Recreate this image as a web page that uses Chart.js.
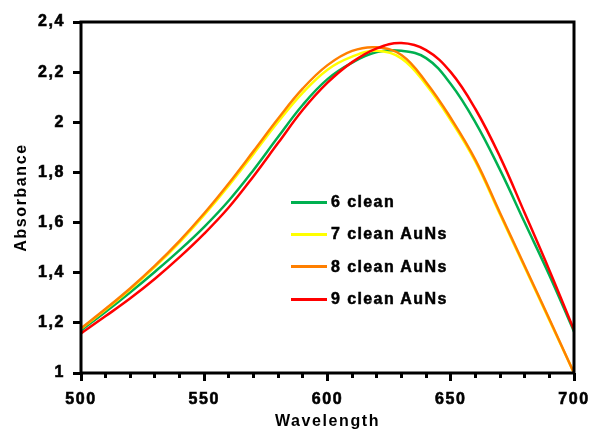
<!DOCTYPE html>
<html>
<head>
<meta charset="utf-8">
<script src="https://cdn.jsdelivr.net/npm/chart.js@4"></script>
<style>
  html, body { margin: 0; padding: 0; background: #fff; }
  #wrap { position: relative; width: 591px; height: 435px; }
  #legend { position: absolute; left: 291px; top: 186px; font: bold 16px "Liberation Sans", Arial, sans-serif; letter-spacing: 1.4px; -webkit-text-stroke: 0.5px #000; color: #000; }
  .row { display: flex; align-items: center; height: 32.3px; }
  .sw { width: 36px; height: 3px; margin-right: 4px; }
</style>
</head>
<body>
<div id="wrap">
  <canvas id="c" width="591" height="435"></canvas>
  <div id="legend"></div>
</div>
<script>
// Wavelength (nm)
const wavelengths = [500,510,520,530,540,550,560,570,580,590,600,610,620,630,640,650,660,670,680,690,700];
// Absorbance series
const clean6     = [1.170,1.244,1.322,1.404,1.490,1.583,1.688,1.810,1.942,2.070,2.172,2.238,2.280,2.285,2.256,2.153,2.000,1.810,1.600,1.390,1.165];
const clean7AuNs = [1.176,1.253,1.334,1.423,1.521,1.630,1.748,1.874,2.002,2.118,2.210,2.262,2.285,2.255,2.150,2.008,1.843,1.632,1.422,1.211,1.000];
const clean8AuNs = [1.178,1.256,1.338,1.428,1.527,1.637,1.757,1.885,2.015,2.135,2.228,2.285,2.299,2.268,2.160,2.017,1.850,1.638,1.427,1.215,1.000];
const clean9AuNs = [1.158,1.227,1.298,1.376,1.462,1.556,1.661,1.785,1.918,2.050,2.158,2.240,2.295,2.316,2.288,2.200,2.053,1.862,1.638,1.410,1.172];

const seriesNames  = ['6 clean', '7 clean AuNs', '8 clean AuNs', '9 clean AuNs'];
const seriesValues = [clean6, clean7AuNs, clean8AuNs, clean9AuNs];
const seriesColors = ['#00B050', '#FFFF00', '#FF7F00', '#FF0000'];
const drawOrder    = [3, 2, 1, 0];

const xTickLabels = ['500', '550', '600', '650', '700'];
const yTickLabels = ['1', '1,2', '1,4', '1,6', '1,8', '2', '2,2', '2,4'];

const FONT = '"Liberation Sans", Arial, sans-serif';

const datasets = seriesNames.map((name, i) => ({
  label: name,
  data: wavelengths.map((w, j) => ({ x: w, y: seriesValues[i][j] })),
  borderColor: seriesColors[i],
  backgroundColor: seriesColors[i],
  borderWidth: 2.5,
  pointRadius: 0,
  tension: 0.4,
  fill: false,
  order: drawOrder[i]
}));

const spacingPlugin = {
  id: 'spacing',
  beforeUpdate(chart) { chart.ctx.letterSpacing = '1.6px'; },
  beforeDraw(chart) { chart.ctx.letterSpacing = '1.6px'; }
};

const framePlugin = {
  id: 'frame',
  afterDatasetsDraw(chart) {
    const a = chart.chartArea, ctx = chart.ctx;
    ctx.save();
    ctx.strokeStyle = '#000';
    ctx.lineWidth = 3;
    ctx.strokeRect(a.left, a.top, a.right - a.left, a.bottom - a.top);
    ctx.restore();
  }
};

const tickFont = { family: FONT, size: 16, weight: 'bold' };

new Chart(document.getElementById('c'), {
  type: 'line',
  data: { datasets },
  plugins: [spacingPlugin, framePlugin],
  options: {
    responsive: false,
    animation: false,
    layout: { padding: { left: 0, top: 22, right: 17, bottom: 0 } },
    plugins: { legend: { display: false }, tooltip: { enabled: false } },
    scales: {
      x: {
        type: 'linear', min: 500, max: 700,
        afterFit(s) { s.height = 62; s.paddingLeft = 0; s.paddingRight = 0; },
        border: { display: false },
        grid: {
          drawOnChartArea: false, drawTicks: true, tickLength: 8, color: '#000', lineWidth: 3,
          tickBorderDash(ctx) { return (ctx.tick && ctx.tick.value % 50 !== 0) ? [5, 60] : []; }
        },
        ticks: {
          stepSize: 10, autoSkip: false, maxRotation: 0, padding: 9,
          color: '#000', font: tickFont, textStrokeColor: '#000', textStrokeWidth: 0.6,
          callback(v) { const k = (v - 500) / 50; return Number.isInteger(k) ? xTickLabels[k] : ''; }
        },
        title: { display: true, text: 'Wavelength', color: '#000', font: { family: FONT, size: 16, weight: 'bold' }, padding: { top: 0, bottom: 4 } }
      },
      y: {
        type: 'linear', min: 1, max: 2.4,
        afterFit(s) { s.width = 81; s.paddingTop = 0; s.paddingBottom = 0; },
        border: { display: false },
        grid: { drawOnChartArea: false, drawTicks: true, tickLength: 8, color: '#000', lineWidth: 3 },
        ticks: {
          stepSize: 0.2, autoSkip: false, padding: 8,
          color: '#000', font: tickFont, textStrokeColor: '#000', textStrokeWidth: 0.6,
          callback(v) { const k = Math.round((v - 1) / 0.2); return yTickLabels[k]; }
        },
        title: { display: true, text: 'Absorbance', color: '#000', font: { family: FONT, size: 16, weight: 'bold' }, padding: { top: 12, bottom: 0 } }
      }
    }
  }
});

const leg = document.getElementById('legend');
seriesNames.forEach((name, i) => {
  const row = document.createElement('div');
  row.className = 'row';
  const sw = document.createElement('div');
  sw.className = 'sw';
  sw.style.background = seriesColors[i];
  const t = document.createElement('span');
  t.textContent = name;
  row.appendChild(sw); row.appendChild(t);
  leg.appendChild(row);
});
</script>
</body>
</html>
